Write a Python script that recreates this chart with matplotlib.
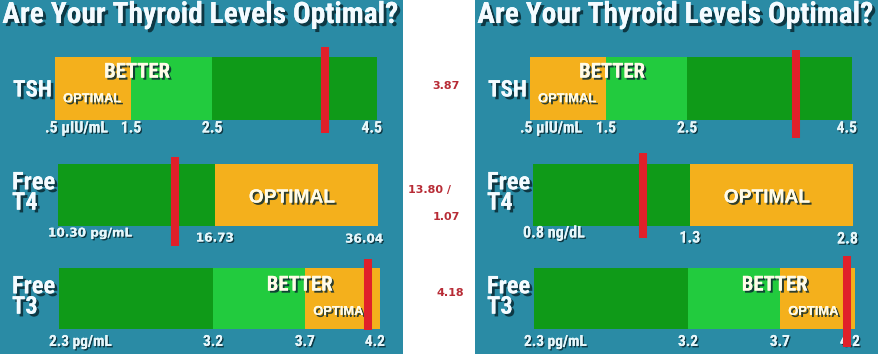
import matplotlib
matplotlib.use("Agg")
import matplotlib.pyplot as plt
import matplotlib.patheffects as pe
from matplotlib import transforms
import numpy as np

# ---- data ----
title = "Are Your Thyroid Levels Optimal?"
row_names = ["TSH", "Free\nT4", "Free\nT3"]

left_ticks = [[0.5, 1.5, 2.5, 4.5], [10.30, 16.73, 36.04], [2.3, 3.2, 3.7, 4.2]]
right_ticks = [[0.5, 1.5, 2.5, 4.5], [0.8, 1.3, 2.8], [2.3, 3.2, 3.7, 4.2]]
left_tick_labels = [[".5 µIU/mL", "1.5", "2.5", "4.5"],
                    ["10.30 pg/mL", "16.73", "36.04"],
                    ["2.3 pg/mL", "3.2", "3.7", "4.2"]]
right_tick_labels = [[".5 µIU/mL", "1.5", "2.5", "4.5"],
                     ["0.8 ng/dL", "1.3", "2.8"],
                     ["2.3 pg/mL", "3.2", "3.7", "4.2"]]
zones = [["optimal", "better", "normal"],
         ["normal", "optimal"],
         ["normal", "better", "optimal"]]
zone_text = [[("BETTER", "big"), ("OPTIMAL", "small")],
             [("OPTIMAL", "mid")],
             [("BETTER", "big"), ("OPTIMA", "small2")]]
# red marker positions as they sit on each bar
left_markers = [3.87, 15.1, 4.12]
right_markers = [3.82, 1.15, 4.15]
side_values = ["3.87", "13.80 /", "1.07", "4.18"]

# ---- layout / style ----
W, H = 883, 357
panel_x = [0, 475]
panel_w, panel_h = 403, 354
bar_boxes = [(55, 57, 322, 63), (58, 164, 320, 62), (59, 268, 321, 61)]
zone_frac = [[0, 0.236, 0.488, 1], [0, 0.49, 1], [0, 0.48, 0.766, 1]]
text_pos = [[(0.255, 0.76), (0.115, 0.33)], [(0.73, 0.45)], [(0.75, 0.72), (0.87, 0.28)]]
text_width = {"big": 66, "mid": 86, "small": 58, "small2": 50}
marker_span = [[(-0.21, 1.16), (-0.32, 1.11), (-0.02, 1.15)],
               [(-0.28, 1.11), (-0.19, 1.18), (-0.30, 1.20)]]
tick_dy = [[-8, -8, -8, -8], [-7, -12, -13], [-13, -13, -13, -13]]
first_tick_w = [[63, 84, 63], [62, 62, 63]]
row_label_y = [90, 193, 297]
row_label_w = [39, 43, 43]
side_pos = [(446, 86), (430, 190), (446, 217), (450, 293)]

teal = "#2a8ba5"
colors = {"optimal": "#f4b01c", "better": "#22cb3e", "normal": "#0f9a18"}
red = "#e0202a"
narrow = ["Roboto Condensed", "Liberation Sans Narrow", "Roboto", "DejaVu Sans"]
wide = ["Liberation Sans", "DejaVu Sans"]
shadow = "#0a2a33"


def shade(d=1.5):
    return [pe.withSimplePatchShadow(offset=(d, -d), shadow_rgbFace=shadow, alpha=0.85), pe.Normal()]


fig = plt.figure(figsize=(W / 100, H / 100), dpi=100)
fig.patch.set_facecolor("white")
renderer = fig.canvas.get_renderer()


def fit(t, width):
    w = t.get_window_extent(renderer).width
    t.set_fontsize(t.get_fontsize() * width / w)
    return t.get_fontsize()


for p, px in enumerate(panel_x):
    ticks_all = left_ticks if p == 0 else right_ticks
    labels_all = left_tick_labels if p == 0 else right_tick_labels
    markers = left_markers if p == 0 else right_markers

    pan = fig.add_axes([px / W, 1 - panel_h / H, panel_w / W, panel_h / H])
    pan.set_facecolor(teal)
    pan.set_xlim(0, panel_w)
    pan.set_ylim(panel_h, 0)
    pan.set_xticks([])
    pan.set_yticks([])
    for s in pan.spines.values():
        s.set_visible(False)

    t = pan.text(200, 15, title, ha="center", va="center", color="#f4fbff",
                 fontsize=20, fontweight="bold", family=narrow, path_effects=shade(2.2))
    fit(t, 395)

    for r in range(3):
        bx, by, bw, bh = bar_boxes[r]
        t = pan.text(12 if r else 13, row_label_y[r], row_names[r], ha="left", va="center",
                     color="#f4fbff", fontsize=17, fontweight="bold", family=narrow,
                     linespacing=0.85, path_effects=shade(2))
        fit(t, row_label_w[r])

        ticks = ticks_all[r]
        frac = zone_frac[r]
        ax = fig.add_axes([(px + bx) / W, 1 - (by + bh) / H, bw / W, bh / H])
        ax.set_xscale("function",
                      functions=(lambda v, t=ticks, f=frac: np.interp(v, t, f),
                                 lambda v, t=ticks, f=frac: np.interp(v, f, t)))
        ax.set_xlim(ticks[0], ticks[-1])
        ax.set_ylim(0, 1)
        ax.axis("off")

        for i, z in enumerate(zones[r]):
            ax.axvspan(ticks[i], ticks[i + 1], color=colors[z], lw=0, zorder=1)

        for (s, kind), (fx, fy) in zip(zone_text[r], text_pos[r]):
            fam = narrow if kind == "big" else wide
            t = ax.text(fx, fy, s, transform=ax.transAxes, ha="center", va="center",
                        color="#fffbe8", fontweight="bold", zorder=3, fontsize=12,
                        family=fam, path_effects=shade(1.5))
            fit(t, text_width[kind])

        lo, hi = marker_span[p][r]
        ax.axvline(markers[r], ymin=lo, ymax=hi, color=red, lw=5.8,
                   solid_capstyle="butt", clip_on=False, zorder=5)

        base = transforms.blended_transform_factory(ax.transData, ax.transAxes)
        n = len(ticks)
        tick_font = ["DejaVu Sans"] if (p == 0 and r == 1) else narrow
        size = None
        for i, (v, lab) in enumerate(zip(ticks, labels_all[r])):
            if i == 0:
                ha, dx = "left", -10
            elif i == n - 1:
                ha, dx = "right", 5
            else:
                ha, dx = "center", 0
            tr = transforms.offset_copy(base, fig=fig, x=dx, y=tick_dy[r][i], units="dots")
            t = ax.text(v, 0, lab, transform=tr, ha=ha, va="center", color="#e6f6fa",
                        fontsize=size or 10, fontweight="bold", family=tick_font,
                        clip_on=False, zorder=4, path_effects=shade(1))
            if size is None:
                size = fit(t, first_tick_w[p][r])

for s, (x, y) in zip(side_values, side_pos):
    fig.text(x / W, 1 - y / H, s, ha="center", va="center", color="#b82c36",
             fontsize=8, fontweight="bold", family=["DejaVu Sans"])

fig.savefig("out.png", dpi=100, facecolor="white")
